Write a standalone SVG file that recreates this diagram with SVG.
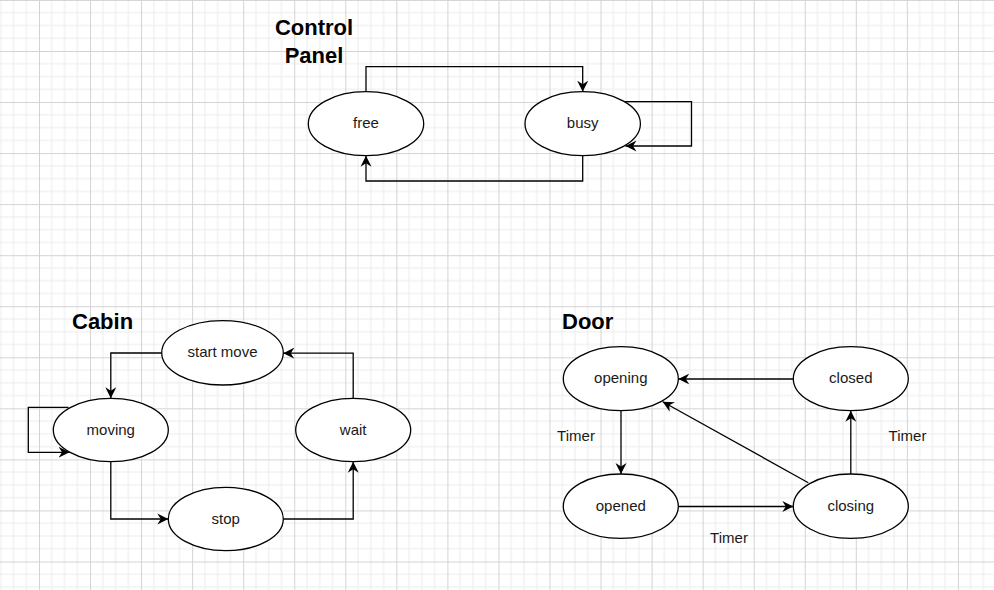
<svg xmlns="http://www.w3.org/2000/svg" width="994" height="590" viewBox="0 0 994 590">
<style>
.node ellipse{fill:#ffffff;stroke:#000000;stroke-width:1.3}
.node text{font-family:"Liberation Sans",Arial,Helvetica,sans-serif;font-size:15px;fill:#1a1a1a;text-anchor:middle;dominant-baseline:central}
.title{font-family:"Liberation Sans",Arial,Helvetica,sans-serif;font-size:22px;font-weight:bold;fill:#000000}
.lbl{font-family:"Liberation Sans",Arial,Helvetica,sans-serif;font-size:15px;fill:#1a1a1a;text-anchor:middle;dominant-baseline:central}
#edges path{fill:none;stroke:#000000;stroke-width:1.3;marker-end:url(#arr)}
</style>
<defs>
<marker id="arr" markerUnits="userSpaceOnUse" markerWidth="12" markerHeight="12" refX="11" refY="5.5" orient="auto" viewBox="0 0 12 11">
<path d="M11,5.5 L0,0 L3.5,5.5 L0,11 Z" fill="#000000"/>
</marker>
<pattern id="grid" patternUnits="userSpaceOnUse" x="39" y="51" width="51.05" height="51.05">
<path d="M12.76,0V51.05M25.52,0V51.05M38.29,0V51.05M0,12.76H51.05M0,25.52H51.05M0,38.29H51.05" stroke="#ebebeb" stroke-width="1" fill="none"/>
<path d="M0.5,0V51.05M0,0.5H51.05" stroke="#d3d3d3" stroke-width="1" fill="none"/>
</pattern>
</defs>
<rect width="994" height="590" fill="#ffffff"/>
<rect width="994" height="590" fill="url(#grid)"/>

<text class="title" x="314" y="35" text-anchor="middle">Control</text>
<text class="title" x="314" y="63" text-anchor="middle">Panel</text>
<text class="title" x="72" y="329">Cabin</text>
<text class="title" x="562" y="329">Door</text>

<g id="edges">
<path d="M366,91.7 V66.7 H582.7 V91.7"/>
<path d="M625,101.7 H691.5 V146 H625.5"/>
<path d="M582.7,155.7 V181 H366 V155.7"/>
<path d="M161.7,353 H110.8 V398.3"/>
<path d="M68.5,407.3 H28.3 V452.3 H69.5"/>
<path d="M110.8,461.7 V519 H168.3"/>
<path d="M283.3,519 H353.2 V461.7"/>
<path d="M353.2,398.3 V353.2 H283.3"/>
<path d="M793.3,379 H678.3"/>
<path d="M621,410.7 V474"/>
<path d="M678.3,506.5 H793.3"/>
<path d="M850.8,474 V410.7"/>
<path d="M808.3,482.7 L662.7,401.7"/>
</g>

<g id="free" class="node"><ellipse cx="366" cy="123.7" rx="57.7" ry="32"/><text x="366" y="122.7">free</text></g>
<g id="busy" class="node"><ellipse cx="582.7" cy="123.7" rx="57.7" ry="32"/><text x="582.7" y="122.7">busy</text></g>

<g id="startmove" class="node"><ellipse cx="222.5" cy="352.8" rx="60.8" ry="32.2"/><text x="222.5" y="351.8">start move</text></g>
<g id="moving" class="node"><ellipse cx="110.8" cy="430" rx="57.5" ry="31.7"/><text x="110.8" y="429">moving</text></g>
<g id="wait" class="node"><ellipse cx="353.2" cy="430" rx="57.5" ry="31.7"/><text x="353.2" y="429">wait</text></g>
<g id="stop" class="node"><ellipse cx="225.8" cy="519" rx="57.5" ry="31.7"/><text x="225.8" y="518">stop</text></g>

<g id="opening" class="node"><ellipse cx="620.8" cy="378.7" rx="57.5" ry="32"/><text x="620.8" y="377.7">opening</text></g>
<g id="closed" class="node"><ellipse cx="850.8" cy="378.7" rx="57.5" ry="32"/><text x="850.8" y="377.7">closed</text></g>
<g id="opened" class="node"><ellipse cx="620.8" cy="506.2" rx="57.5" ry="32.2"/><text x="620.8" y="505.2">opened</text></g>
<g id="closing" class="node"><ellipse cx="850.8" cy="506.2" rx="57.5" ry="32.2"/><text x="850.8" y="505.2">closing</text></g>

<text class="lbl" x="576" y="435">Timer</text>
<text class="lbl" x="907.5" y="435">Timer</text>
<text class="lbl" x="729" y="537">Timer</text>
</svg>
